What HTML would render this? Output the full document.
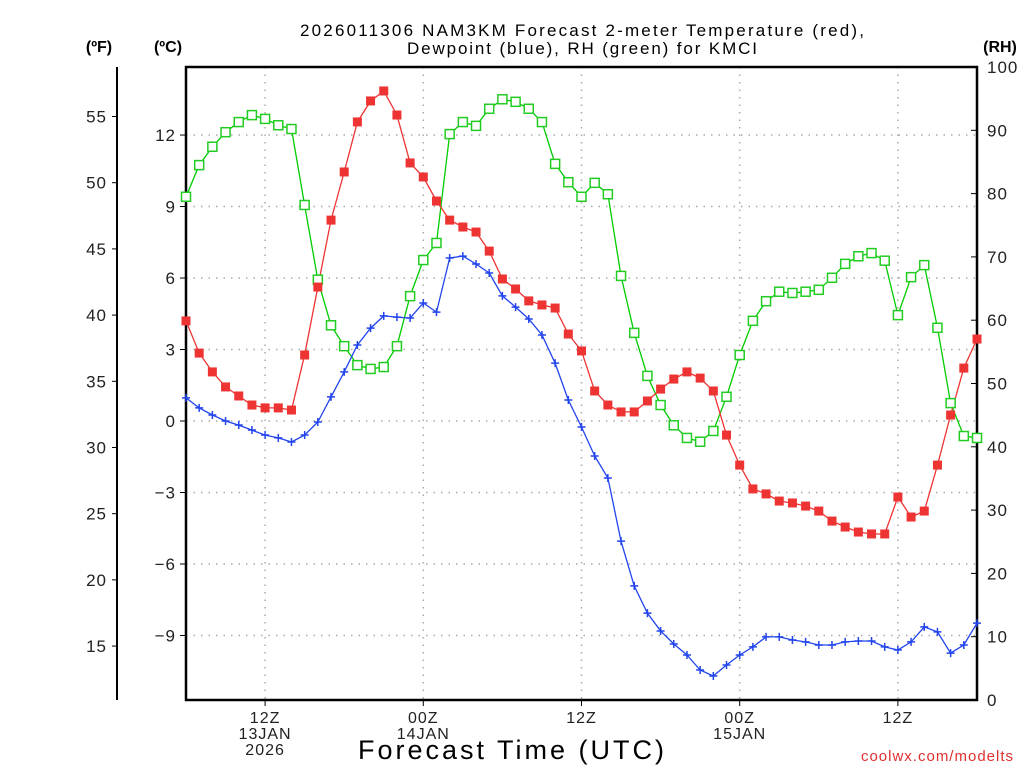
<!DOCTYPE html>
<html><head><meta charset="utf-8"><style>
body{margin:0;background:#fff}
svg{display:block;font-family:"Liberation Sans",sans-serif}
</style></head><body>
<svg id="chart" width="1024" height="768" viewBox="0 0 1024 768" xmlns="http://www.w3.org/2000/svg">
<rect width="1024" height="768" fill="#fff"/>
<text x="582" y="36" text-anchor="middle" font-size="17" fill="#000" textLength="564" lengthAdjust="spacing">2026011306 NAM3KM Forecast 2-meter Temperature (red),</text>
<text x="582" y="54" text-anchor="middle" font-size="17" fill="#000" textLength="350" lengthAdjust="spacing">Dewpoint (blue), RH (green) for KMCI</text>
<text x="99" y="52" text-anchor="middle" font-size="16" font-weight="bold">(ºF)</text>
<text x="168" y="52" text-anchor="middle" font-size="16" font-weight="bold">(ºC)</text>
<text x="1000" y="52" text-anchor="middle" font-size="16" font-weight="bold">(RH)</text>
<text x="511" y="759" text-anchor="middle" font-size="27" textLength="306" lengthAdjust="spacing">Forecast Time (UTC)</text>
<text x="1014" y="761" text-anchor="end" font-size="15" fill="#e03030" letter-spacing="1">coolwx.com/modelts</text>
<g id="grid"></g>
<g id="axes"></g>
<g id="series"></g>
</svg>
<script>
const hours = 61; // hourly from 06Z 13JAN
const tempC = [4.2,2.85,2.06,1.43,1.05,0.67,0.55,0.55,0.46,2.77,5.62,8.43,10.45,12.55,13.43,13.85,12.84,10.83,10.24,9.23,8.43,8.14,7.93,7.13,5.96,5.54,5.04,4.87,4.74,3.65,2.94,1.26,0.67,0.38,0.38,0.84,1.34,1.76,2.06,1.8,1.26,-0.59,-1.85,-2.85,-3.06,-3.36,-3.44,-3.57,-3.78,-4.2,-4.45,-4.66,-4.74,-4.74,-3.19,-4.03,-3.78,-1.85,0.25,2.22,3.44];
const dewC = [0.97,0.55,0.25,0,-0.17,-0.38,-0.59,-0.71,-0.88,-0.59,-0.04,1.01,2.06,3.19,3.9,4.41,4.36,4.32,4.95,4.57,6.84,6.92,6.59,6.21,5.25,4.78,4.28,3.61,2.43,0.88,-0.25,-1.47,-2.39,-5.04,-6.92,-8.06,-8.81,-9.36,-9.82,-10.45,-10.7,-10.24,-9.82,-9.48,-9.06,-9.06,-9.19,-9.27,-9.4,-9.4,-9.27,-9.23,-9.23,-9.48,-9.61,-9.27,-8.64,-8.85,-9.74,-9.4,-8.48];
const rh = [79.5,84.5,87.4,89.7,91.3,92.4,91.8,90.8,90.2,78.2,66.4,59.2,55.9,52.9,52.3,52.6,55.9,63.8,69.5,72.2,89.4,91.3,90.7,93.4,94.9,94.5,93.4,91.3,84.7,81.8,79.5,81.7,79.9,67.0,58.0,51.2,46.6,43.4,41.4,40.8,42.5,47.9,54.5,59.9,63.0,64.5,64.3,64.5,64.8,66.7,68.9,70.1,70.6,69.4,60.8,66.8,68.7,58.8,46.9,41.7,41.4];
const cTicks = [-9,-6,-3,0,3,6,9,12];
const fTicks = [15,20,25,30,35,40,45,50,55];
const rhTicks = [0,10,20,30,40,50,60,70,80,90,100];
const timeTickHours = [6,18,30,42,54];
const timeTickLabels = [["12Z","13JAN","2026"],["00Z","14JAN"],["12Z"],["00Z","15JAN"],["12Z"]];

const X0=186,X1=977,Y0=67,Y1=700;
const xs=h=>X0+(X1-X0)*h/(hours-1);
const yC=c=>421-c*23.83;
const yF=f=>yC((f-32)/1.8);
const yR=r=>Y1-(Y1-Y0)*r/100;
const NS="http://www.w3.org/2000/svg";
function mk(tag,attrs,parent){const e=document.createElementNS(NS,tag);for(const k in attrs)e.setAttribute(k,attrs[k]);parent.appendChild(e);return e;}
const grid=document.getElementById('grid'),axes=document.getElementById('axes'),series=document.getElementById('series');

cTicks.forEach(c=>{const y=yC(c);
 let g=mk('line',{x1:X0,x2:X1,y1:y,y2:y,stroke:'#aaa','stroke-width':1.5,'stroke-dasharray':'1.5 6'},grid);
 
 
 let t=mk('line',{x1:X0-6,x2:X0,y1:y,y2:y,stroke:'#000','stroke-width':1},axes);
 
 
 let l=mk('text',{x:X0-10,y:y+6,'text-anchor':'end','font-size':17,fill:'#222','letter-spacing':1},axes);
 l.textContent=c<0?'\u2212'+(-c):String(c);
 
 
});
fTicks.forEach(f=>{const y=yF(f);
 let t=mk('line',{x1:112,x2:117,y1:y,y2:y,stroke:'#000','stroke-width':1},axes);
 
 
 let l=mk('text',{x:107,y:y+6,'text-anchor':'end','font-size':17,fill:'#222','letter-spacing':1},axes);
 l.textContent=String(f);
 
 
});
rhTicks.forEach(r=>{const y=yR(r);
 let t=mk('line',{x1:X1-6,x2:X1,y1:y,y2:y,stroke:'#000','stroke-width':1},axes);
 
 
 let l=mk('text',{x:X1+10,y:y+6,'text-anchor':'start','font-size':17,fill:'#222','letter-spacing':1},axes);
 l.textContent=String(r);
 
 
});
timeTickHours.forEach((h,i)=>{const x=xs(h);
 let g=mk('line',{x1:x,x2:x,y1:Y0,y2:Y1,stroke:'#aaa','stroke-width':1.5,'stroke-dasharray':'1.5 6'},grid);
 
 
 let t=mk('line',{x1:x,x2:x,y1:Y1,y2:Y1+6,stroke:'#000','stroke-width':1},axes);
 
 
 timeTickLabels[i].forEach((s,j)=>{
  let l=mk('text',{x:x,y:723+j*16,'text-anchor':'middle','font-size':16,fill:'#222','letter-spacing':1},axes);
  l.textContent=s;
  
  
 });
});
let fa=mk('line',{x1:117,x2:117,y1:Y0,y2:Y1,stroke:'#000','stroke-width':2},axes);


let fr=mk('rect',{x:X0,y:Y0,width:X1-X0,height:Y1-Y0,fill:'none',stroke:'#000','stroke-width':2.5},axes);



function line(vals,yf,color,name){
 const pts=vals.map((v,i)=>xs(i).toFixed(1)+','+yf(v).toFixed(1)).join(' ');
 const p=mk('polyline',{points:pts,fill:'none',stroke:color,'stroke-width':1.3},series);
 
 
}
line(rh,yR,'#00cc00','rh-line');
line(dewC,yC,'#2244ee','dewpoint-line');
line(tempC,yC,'#ee3333','temperature-line');
rh.forEach((v,i)=>{const m=mk('rect',{x:xs(i)-4.5,y:yR(v)-4.5,width:9,height:9,fill:'#fff',stroke:'#22cc22','stroke-width':1.5},series);
 
 });
dewC.forEach((v,i)=>{const x=xs(i),y=yC(v);
 const m=mk('path',{d:`M${x-4},${y}H${x+4}M${x},${y-4}V${y+4}`,stroke:'#2244ee','stroke-width':1.5,fill:'none'},series);
 
 });
tempC.forEach((v,i)=>{const m=mk('rect',{x:xs(i)-4.5,y:yC(v)-4.5,width:9,height:9,fill:'#ee3333'},series);
 
 });
</script>
</body></html>
